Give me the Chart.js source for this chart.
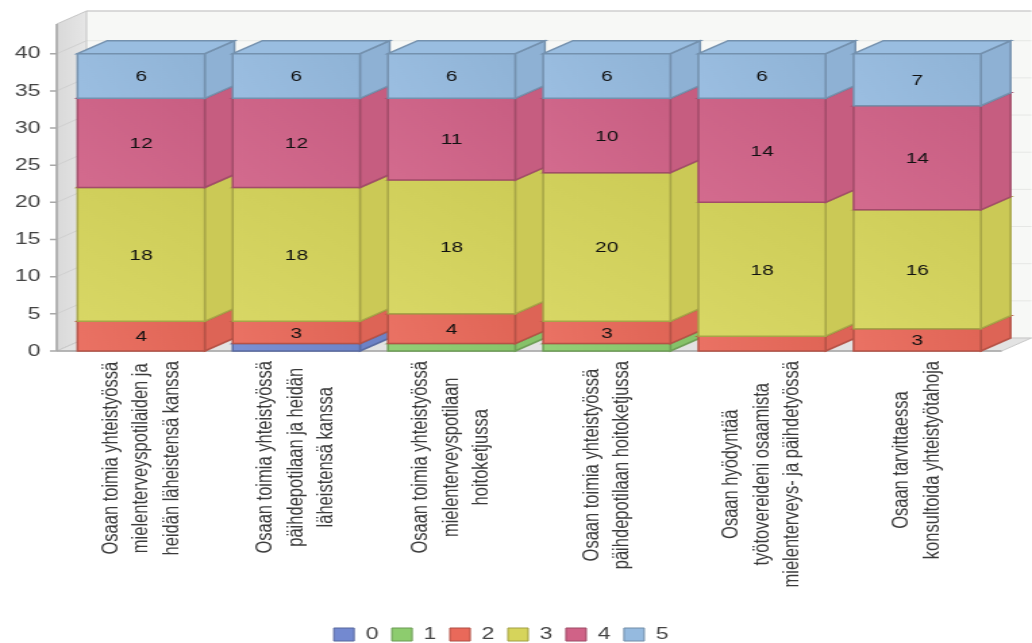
<!DOCTYPE html>
<html>
<head>
<meta charset="utf-8">
<script src="https://cdn.jsdelivr.net/npm/chart.js@4.4.1/dist/chart.umd.min.js"></script>
<style>
    html, body { margin: 0; padding: 0; background: #fff; overflow: hidden; }
    #wrap { width: 764px; height: 643px; transform: scaleX(1.3508); transform-origin: 0 0; }
</style>
</head>
<body>
<div id="wrap"><canvas id="chart" width="764" height="643"></canvas></div>
<script>
// categories, each split into the lines shown under the bars
const categories = [
    ['Osaan toimia yhteistyössä', 'mielenterveyspotilaiden ja', 'heidän läheistensä kanssa'],
    ['Osaan toimia yhteistyössä', 'päihdepotilaan ja heidän', 'läheistensä kanssa'],
    ['Osaan toimia yhteistyössä', 'mielenterveyspotilaan', 'hoitoketjussa'],
    ['Osaan toimia yhteistyössä', 'päihdepotilaan hoitoketjussa'],
    ['Osaan hyödyntää', 'työtovereideni osaamista', 'mielenterveys- ja päihdetyössä'],
    ['Osaan tarvittaessa', 'konsultoida yhteistyötahoja']
];
const seriesNames = ['0', '1', '2', '3', '4', '5'];
const s0 = [0, 1, 0, 0, 0, 0];
const s1 = [0, 0, 1, 1, 0, 0];
const s2 = [4, 3, 4, 3, 2, 3];
const s3 = [18, 18, 18, 20, 18, 16];
const s4 = [12, 12, 11, 10, 14, 14];
const s5 = [6, 6, 6, 6, 6, 7];
const yTicks = [0, 5, 10, 15, 20, 25, 30, 35, 40];
const colors = ['#7389d0', '#8dcc6e', '#e9695a', '#d6d45b', '#d06287', '#95badf'];

const DX = 22, DY = -13;   // 3d depth offset

function mix(hex, target, t) {
    const n = parseInt(hex.slice(1), 16);
    const r = n >> 16, g = (n >> 8) & 255, b = n & 255;
    const f = v => Math.round(v + (target - v) * t);
    return 'rgb(' + f(r) + ',' + f(g) + ',' + f(b) + ')';
}

function poly(ctx, pts, fill, stroke) {
    ctx.beginPath();
    ctx.moveTo(pts[0][0], pts[0][1]);
    for (let i = 1; i < pts.length; i++) ctx.lineTo(pts[i][0], pts[i][1]);
    ctx.closePath();
    ctx.fillStyle = fill;
    ctx.fill();
    if (stroke) { ctx.strokeStyle = stroke; ctx.stroke(); }
}

const bars3d = {
    id: 'bars3d',
    beforeDatasetsDraw(chart) {
        const ctx = chart.ctx;
        const y = chart.scales.y;
        const lw = chart.chartArea.left - 5, rw = chart.chartArea.right + 5;
        const top = y.getPixelForValue(44), base = y.getPixelForValue(0);
        ctx.save();
        ctx.lineWidth = 1;
        // back wall
        poly(ctx, [[lw + DX, top + DY], [rw + DX, top + DY], [rw + DX, base + DY], [lw + DX, base + DY]], '#f7f8f6', null);
        ctx.strokeStyle = '#cfcfcf';
        ctx.lineWidth = 1.5;
        ctx.beginPath();
        ctx.moveTo(lw + DX, top + DY); ctx.lineTo(rw + DX, top + DY);
        ctx.stroke();
        ctx.lineWidth = 1;
        yTicks.forEach(v => {
            const py = y.getPixelForValue(v);
            ctx.strokeStyle = '#e6e7e5';
            ctx.beginPath();
            ctx.moveTo(lw + DX, py + DY); ctx.lineTo(rw + DX, py + DY);
            ctx.stroke();
        });
        // left wall
        const g = ctx.createLinearGradient(lw, 0, lw + DX, 0);
        g.addColorStop(0, '#d9d9d9');
        g.addColorStop(1, '#e6e6e6');
        poly(ctx, [[lw, base], [lw, top], [lw + DX, top + DY], [lw + DX, base + DY]], g, '#c4c4c4');
        yTicks.forEach(v => {
            const py = y.getPixelForValue(v);
            ctx.strokeStyle = '#d0d0d0';
            ctx.beginPath();
            ctx.moveTo(lw, py); ctx.lineTo(lw + DX, py + DY);
            ctx.stroke();
        });
        // floor
        poly(ctx, [[lw, base], [rw, base], [rw + DX, base + DY], [lw + DX, base + DY]], '#e3e3e3', '#c8c8c8');
        ctx.strokeStyle = '#a8a8a8';
        ctx.lineWidth = 1.5;
        ctx.beginPath();
        ctx.moveTo(lw, base); ctx.lineTo(rw, base);
        ctx.moveTo(lw, top); ctx.lineTo(lw, base);
        yTicks.forEach(v => {
            const py = y.getPixelForValue(v);
            ctx.moveTo(lw - 5, py); ctx.lineTo(lw, py);
        });
        ctx.stroke();

        // bars, category by category, segments bottom to top
        ctx.lineWidth = 1.5;
        for (let i = 0; i < categories.length; i++) {
            chart.data.datasets.forEach((ds, di) => {
                if (!ds.data[i]) return;
                const el = chart.getDatasetMeta(di).data[i];
                const p = el.getProps(['x', 'y', 'base', 'width'], true);
                const L = p.x - p.width / 2, R = p.x + p.width / 2;
                const c = colors[di], edge = mix(c, 0, 0.22);
                poly(ctx, [[R, p.base], [R + DX, p.base + DY], [R + DX, p.y + DY], [R, p.y]], mix(c, 0, 0.05), edge);
                poly(ctx, [[L, p.y], [L + DX, p.y + DY], [R + DX, p.y + DY], [R, p.y]], mix(c, 255, 0.04), edge);
                const fg = ctx.createLinearGradient(L, p.base, R, p.y);
                fg.addColorStop(0, mix(c, 255, 0.06));
                fg.addColorStop(1, mix(c, 0, 0.04));
                poly(ctx, [[L, p.y], [R, p.y], [R, p.base], [L, p.base]], fg, edge);
            });
        }
        // value labels
        ctx.fillStyle = '#111';
        ctx.font = '15.5px "Liberation Sans", Arial, sans-serif';
        ctx.textAlign = 'center';
        ctx.textBaseline = 'middle';
        chart.data.datasets.forEach((ds, di) => {
            chart.getDatasetMeta(di).data.forEach((el, i) => {
                const v = ds.data[i];
                if (v < 3) return;
                const p = el.getProps(['x', 'y', 'base'], true);
                ctx.fillText(String(v), p.x, (p.y + p.base) / 2 + 1);
            });
        });
        ctx.restore();
        return false;
    },
    afterDraw(chart) {
        const ctx = chart.ctx;
        const x = chart.scales.x;
        ctx.save();
        ctx.fillStyle = '#3a3a3a';
        ctx.font = '16.5px "Liberation Sans", Arial, sans-serif';
        ctx.textAlign = 'center';
        ctx.textBaseline = 'middle';
        categories.forEach((lines, i) => {
            const cx = x.getPixelForValue(i);
            const maxW = Math.max(...lines.map(t => ctx.measureText(t).width));
            const cy = 361 + maxW / 2;
            lines.forEach((t, k) => {
                const lx = cx + (k - (lines.length - 1) / 2) * 22.5;
                ctx.save();
                ctx.translate(lx, cy);
                ctx.rotate(-Math.PI / 2);
                ctx.fillText(t, 0, 0);
                ctx.restore();
            });
        });
        ctx.restore();
    }
};

const series = [s0, s1, s2, s3, s4, s5];

new Chart(document.getElementById('chart'), {
    type: 'bar',
    data: {
        labels: categories.map(c => c.join(' ')),
        datasets: series.map((d, i) => ({
            label: seriesNames[i],
            data: d,
            backgroundColor: colors[i],
            borderColor: mix(colors[i], 0, 0.25),
            borderWidth: 1,
            barPercentage: 0.82,
            categoryPercentage: 1
        }))
    },
    options: {
        responsive: false,
        animation: false,
        devicePixelRatio: 1,
        layout: { padding: { top: 24, left: 0, right: 22, bottom: -10 } },
        plugins: {
            legend: {
                position: 'bottom',
                labels: {
                    boxWidth: 15,
                    boxHeight: 13,
                    padding: 10,
                    color: '#444',
                    font: { family: '"Liberation Sans", Arial, sans-serif', size: 17 }
                }
            },
            tooltip: { enabled: false }
        },
        scales: {
            x: {
                stacked: true,
                grid: { display: false },
                border: { display: false },
                ticks: { display: false },
                afterFit: s => { s.height = 265; }
            },
            y: {
                stacked: true,
                min: 0,
                max: 44,
                bounds: 'data',
                grid: { display: false, drawTicks: false },
                border: { display: false },
                afterBuildTicks: s => { s.ticks = yTicks.map(v => ({ value: v })); },
                afterFit: s => { s.width = 47; },
                ticks: {
                    padding: 17,
                    color: '#444',
                    font: { family: '"Liberation Sans", Arial, sans-serif', size: 17, lineHeight: 0.8 }
                }
            },
            y2: {
                position: 'right',
                grid: { display: false },
                border: { display: false },
                ticks: { display: false },
                afterFit: s => { s.width = 5.5; }
            }
        }
    },
    plugins: [bars3d]
});
</script>
</body>
</html>
